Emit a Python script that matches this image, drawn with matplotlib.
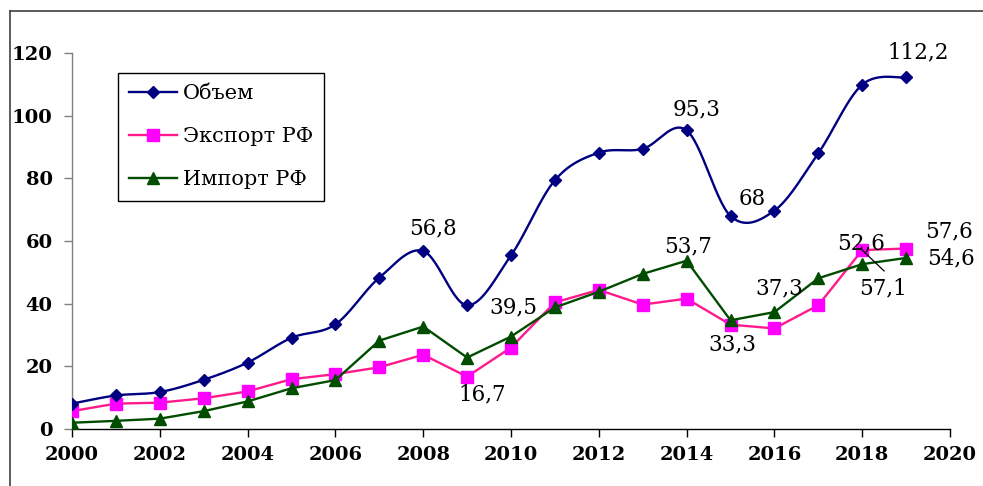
import numpy as np
import matplotlib
matplotlib.use("Agg")
import matplotlib.pyplot as plt
from matplotlib.lines import Line2D

years = list(range(2000, 2020))
volume = [8.1, 10.7, 11.8, 15.7, 21.2, 29.1, 33.4, 48.3, 56.8, 39.5,
          55.4, 79.4, 88.2, 89.4, 95.3, 68.0, 69.7, 88.0, 109.9, 112.2]
export = [5.7, 8.1, 8.4, 9.8, 12.0, 15.9, 17.5, 19.7, 23.7, 16.7,
          26.0, 40.4, 44.4, 39.7, 41.6, 33.3, 32.1, 39.5, 57.1, 57.6]
imports = [2.0, 2.6, 3.3, 5.7, 8.8, 13.0, 15.6, 28.2, 32.7, 22.8,
           29.5, 38.8, 43.8, 49.5, 53.7, 34.7, 37.3, 48.1, 52.6, 54.6]
series_names = ["Объем", "Экспорт РФ", "Импорт РФ"]
x_ticks = list(range(2000, 2021, 2))
y_ticks = list(range(0, 121, 20))

# labels: (series, year, text, dx_px, dy_px)
labels = [
    ("v", 2008, "56,8", 10, 23),
    ("v", 2014, "95,3", 10, 21),
    ("v", 2015, "68", 22, 17),
    ("v", 2019, "112,2", 12, 25),
    ("v", 2009, "39,5", 46, -2),
    ("e", 2009, "16,7", 15, -18),
    ("i", 2014, "53,7", 1, 14),
    ("e", 2015, "33,3", 2, -20),
    ("i", 2016, "37,3", 5, 24),
    ("i", 2018, "52,6", -1, 21),
    ("e", 2019, "57,6", 43, 17),
    ("i", 2019, "54,6", 45, -1),
]

plt.rcParams['font.family'] = ['DejaVu Serif']

fig = plt.figure(figsize=(9.83, 4.86), dpi=100)
W, H = 983, 486
ax = fig.add_axes([72 / W, (H - 429) / H, (950 - 72) / W, (429 - 53) / H])


def catmull(xs, ys, n=30):
    xs = np.asarray(xs, float)
    ys = np.asarray(ys, float)
    px = np.concatenate([[xs[0]], xs, [xs[-1]]])
    py = np.concatenate([[ys[0]], ys, [ys[-1]]])
    outx, outy = [], []
    t = np.linspace(0, 1, n)
    for i in range(1, len(px) - 2):
        p0 = np.array([px[i], py[i]])
        p3 = np.array([px[i + 1], py[i + 1]])
        c1 = p0 + (np.array([px[i + 1], py[i + 1]]) - np.array([px[i - 1], py[i - 1]])) / 6
        c2 = p3 - (np.array([px[i + 2], py[i + 2]]) - np.array([px[i], py[i]])) / 6
        b = ((1 - t) ** 3)[:, None] * p0 + (3 * (1 - t) ** 2 * t)[:, None] * c1 \
            + (3 * (1 - t) * t ** 2)[:, None] * c2 + (t ** 3)[:, None] * p3
        outx.extend(b[:, 0])
        outy.extend(b[:, 1])
    return outx, outy


navy = "#000080"
pink_line = "#FF1A8C"
pink_fill = "#FF00FF"
green = "#004D00"

sx, sy = catmull(years, volume)
ax.plot(sx, sy, color=navy, lw=1.7, zorder=3)
ax.plot(years, volume, ls="none", marker="D", ms=6.5, color=navy, zorder=4)
ax.plot(years, export, color=pink_line, lw=1.7, marker="s", ms=9,
        mfc=pink_fill, mec=pink_fill, zorder=3)
ax.plot(years, imports, color=green, lw=1.7, marker="^", ms=8,
        mfc=green, mec=green, zorder=3)

h1 = Line2D([], [], color=navy, lw=1.7, marker="D", ms=6)
h2 = Line2D([], [], color=pink_line, lw=1.7, marker="s", ms=9, mfc=pink_fill, mec=pink_fill)
h3 = Line2D([], [], color=green, lw=1.7, marker="^", ms=8, mfc=green, mec=green)
leg = ax.legend([h1, h2, h3], series_names, loc="upper left",
                bbox_to_anchor=((118 - 72) / 878, (429 - 73) / 376),
                borderaxespad=0, fancybox=False, framealpha=1,
                edgecolor="black", fontsize=15, labelspacing=1.15,
                handlelength=2.3, handletextpad=0.25, borderpad=0.55)
leg.get_frame().set_linewidth(1.0)

data = {"v": volume, "e": export, "i": imports}
for s, yr, txt, dx, dy in labels:
    ax.annotate(txt, (yr, data[s][yr - 2000]), xytext=(dx, dy),
                textcoords="offset pixels", ha="center", va="center",
                fontsize=15.5, color="black", zorder=5)

# 57,1 with leader line
ax.annotate("57,1", (2018, export[18]), xytext=(21, -38),
            textcoords="offset pixels", ha="center", va="center",
            fontsize=15.5, color="black", zorder=5)
ax.annotate("", (2018, export[18]), xytext=(22, -21),
            textcoords="offset pixels",
            arrowprops=dict(arrowstyle="-", color="black", lw=0.9, shrinkA=0, shrinkB=0))

ax.set_xlim(2000, 2020)
ax.set_ylim(0, 120)
ax.set_xticks(x_ticks)
ax.set_yticks(y_ticks)
for sp in ["top", "right"]:
    ax.spines[sp].set_visible(False)
ax.spines["left"].set_color("#808080")
ax.spines["left"].set_linewidth(1.0)
ax.spines["bottom"].set_color("black")
ax.spines["bottom"].set_linewidth(1.0)
ax.tick_params(axis="x", direction="out", length=6, width=1, color="black",
               labelsize=14, pad=6)
ax.tick_params(axis="y", direction="out", length=6, width=1, color="#808080",
               labelsize=14, pad=8)
for lab in ax.get_xticklabels() + ax.get_yticklabels():
    lab.set_fontweight("bold")
ax.patch.set_alpha(0)

# outer frame (left and top edges visible)
fig.add_artist(Line2D([10 / W, 10 / W], [0, 1 - 11 / H], color="#404040", lw=1.2,
                      transform=fig.transFigure))
fig.add_artist(Line2D([10 / W, 1], [1 - 11 / H, 1 - 11 / H], color="#404040", lw=1.2,
                      transform=fig.transFigure))

fig.savefig("out.png", dpi=100)
